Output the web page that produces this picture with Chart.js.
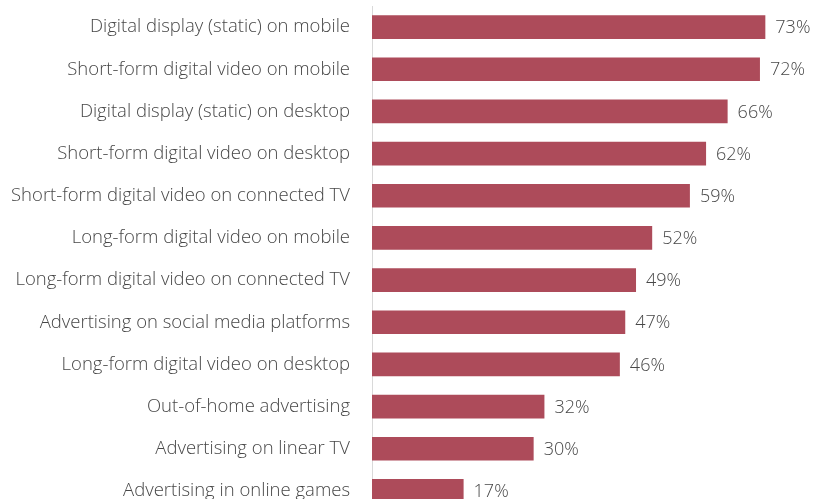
<!DOCTYPE html>
<html>
<head>
<meta charset="utf-8">
<script src="https://cdn.jsdelivr.net/npm/chart.js@4"></script>
<style>
  html, body { margin: 0; padding: 0; background: #fff; overflow: hidden; }
  canvas { display: block; }
</style>
</head>
<body>
<canvas id="myChart" width="830" height="512"></canvas>
<script>
const categories = [
  'Digital display (static) on mobile',
  'Short-form digital video on mobile',
  'Digital display (static) on desktop',
  'Short-form digital video on desktop',
  'Short-form digital video on connected TV',
  'Long-form digital video on mobile',
  'Long-form digital video on connected TV',
  'Advertising on social media platforms',
  'Long-form digital video on desktop',
  'Out-of-home advertising',
  'Advertising on linear TV',
  'Advertising in online games'
];
const shares = [73, 72, 66, 62, 59, 52, 49, 47, 46, 32, 30, 17];

const FONT = '"Open Sans", Lato, sans-serif';
const TEXT_COLOR = '#474747';

// percentage text after each bar
const valueLabels = {
  id: 'valueLabels',
  afterDatasetsDraw(chart) {
    const c = chart.ctx;
    const meta = chart.getDatasetMeta(0);
    c.save();
    c.font = '300 18px ' + FONT;
    c.fillStyle = TEXT_COLOR;
    c.textBaseline = 'middle';
    c.textAlign = 'left';
    meta.data.forEach((bar, i) => {
      c.fillText(shares[i] + '%', bar.x + 10, bar.y + 1);
    });
    c.restore();
  }
};

const ctx = document.getElementById('myChart');
new Chart(ctx, {
  type: 'bar',
  data: {
    labels: categories,
    datasets: [{
      data: shares,
      backgroundColor: '#ad4b5a',
      borderWidth: 0,
      barPercentage: 0.56,
      categoryPercentage: 1
    }]
  },
  plugins: [valueLabels],
  options: {
    indexAxis: 'y',
    responsive: false,
    animation: false,
    layout: { padding: { top: 6, bottom: 0, left: 0, right: 0 } },
    plugins: {
      legend: { display: false },
      tooltip: { enabled: false }
    },
    scales: {
      x: {
        display: false,
        min: 0,
        max: 85
      },
      y: {
        grid: { display: true, drawOnChartArea: false, drawTicks: true, tickLength: 22, tickColor: 'rgba(0,0,0,0)' },
        border: { display: true, color: '#d9d9d9', width: 1 },
        ticks: {
          padding: 0,
          color: TEXT_COLOR,
          font: { family: FONT, size: 18.5, weight: 300 }
        },
        afterFit(scale) {
          scale.width = 372;
          scale.paddingTop = 0;
          scale.paddingBottom = 0;
        }
      }
    }
  }
});
</script>
</body>
</html>
